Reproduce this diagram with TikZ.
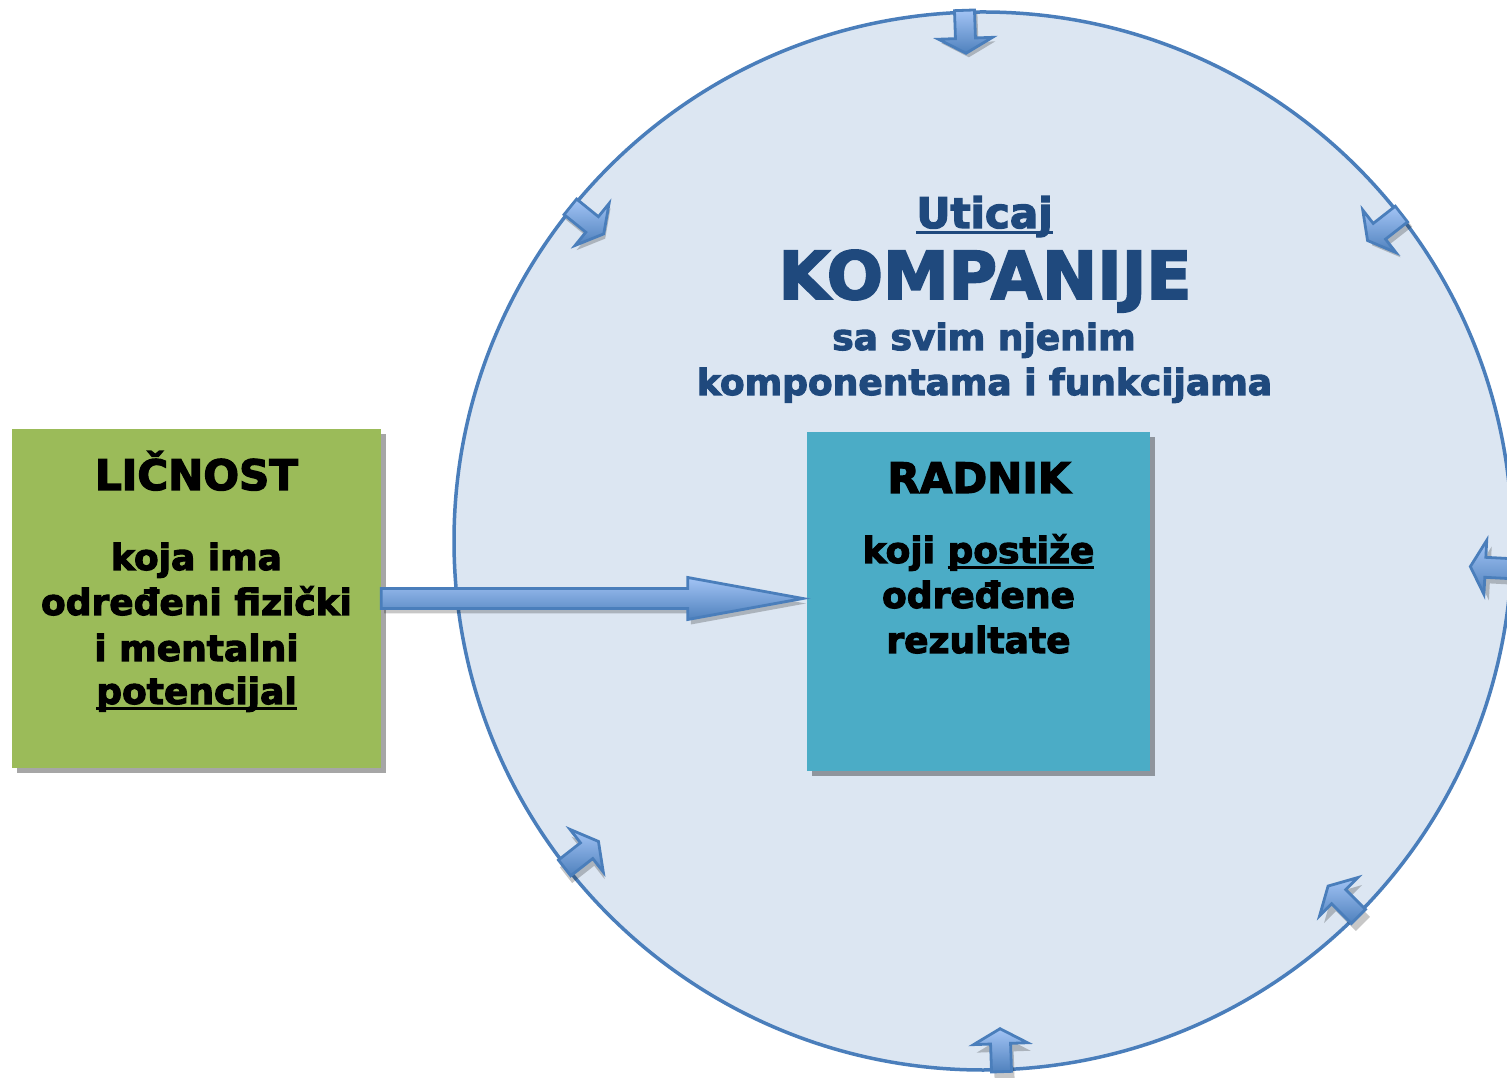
\documentclass[tikz,border=0pt]{standalone}
\usepackage{fontspec}
\setmainfont{DejaVu Sans}[BoldFeatures={FakeBold=3}]
\usetikzlibrary{calc,shadows}
\definecolor{circfill}{HTML}{DCE6F2}
\definecolor{circline}{HTML}{4A7EBB}
\definecolor{titleblue}{HTML}{1F497D}
\definecolor{boxgreen}{HTML}{9BBB59}
\definecolor{boxblue}{HTML}{4BACC6}
\definecolor{arrlight}{HTML}{A3C4F5}
\definecolor{arrdark}{HTML}{4F81BD}
\newcommand\myul[1]{\setbox0\hbox{#1}\rlap{\rule[-6pt]{\wd0}{3pt}}\box0}
\newcommand\bigarrowpath[2]{([xshift=#1,yshift=10pt+#2]g.east) -- ([xshift=-115pt+#1,yshift=10pt+#2]tip) -- ([xshift=-115pt+#1,yshift=21pt+#2]tip) -- ([xshift=#1,yshift=#2]tip) -- ([xshift=-115pt+#1,yshift=-21pt+#2]tip) -- ([xshift=-115pt+#1,yshift=-10pt+#2]tip) -- ([xshift=#1,yshift=-10pt+#2]g.east) -- cycle}
\tikzset{
  boxshadow/.style={drop shadow={shadow xshift=5pt, shadow yshift=-5pt, fill=black, opacity=0.35}},
  colbox/.style={minimum width=#1, minimum height=339pt, inner sep=0pt, boxshadow},
  arrowbody/.style={draw=circline, line width=2.8pt, line join=miter, top color=arrlight, bottom color=arrdark},
  arrowshade/.style={fill=black, opacity=0.22},
  titletext/.style={text=titleblue, anchor=base, inner sep=0pt},
  boxtext/.style={text=black, anchor=base, inner sep=0pt},
  bigfont/.style={font=\fontsize{66}{70}\selectfont\bfseries},
  headfont/.style={font=\fontsize{42}{48}\selectfont\bfseries},
  bodyfont/.style={font=\fontsize{36}{44}\selectfont\bfseries},
}
\begin{document}
\begin{tikzpicture}[x=1pt,y=1pt]
\useasboundingbox (0,0) rectangle (1507,1077);
% company circle
\node[circle, draw=circline, line width=3.5pt, fill=circfill, minimum size=1058pt, inner sep=0pt] (c) at (983,536) {};
% small inward arrows on the rim
\foreach \a in {92,141,38,-3,218,-45,-88} {
  \begin{scope}[shift={(986,530)}, rotate=\a]
    \fill[arrowshade] (533,-10) -- (505,-10) -- (505,-27) -- (490,0) -- (505,27) -- (505,10) -- (533,10) -- cycle;
  \end{scope}
  \begin{scope}[shift={(983,536)}, rotate=\a]
    \path[arrowbody] (531,-10) -- (503,-10) -- (503,-27) -- (488,0) -- (503,27) -- (503,10) -- (531,10) -- cycle;
  \end{scope}
}
% title texts
\node[titletext, headfont] (t1) at (984.5,849) {\myul{Uticaj}};
\node[titletext, bigfont] (t2) at (985,778) {KOMPANIJE};
\node[titletext, bodyfont] (t3) at (984,727) {sa svim njenim};
\node[titletext, bodyfont] (t4) at (984.5,682) {komponentama i funkcijama};
% boxes
\node[colbox=369pt, fill=boxgreen] (g) at (196.5,478.5) {};
\node[colbox=343pt, fill=boxblue] (r) at (978.5,475.5) {};
% green box text
\node[boxtext, headfont] (g1) at (196.5,587) {LIČNOST};
\node[boxtext, bodyfont] (g2) at (196.5,507) {koja ima};
\node[boxtext, bodyfont] (g3) at (196.5,462) {određeni fizički};
\node[boxtext, bodyfont] (g4) at (196.5,416) {i mentalni};
\node[boxtext, bodyfont] (g5) at (196.5,373) {\myul{potencijal}};
% blue box text
\node[boxtext, headfont] (r1) at (979,584) {RADNIK};
\node[boxtext, bodyfont] (r2) at (978.5,514) {koji \myul{postiže}};
\node[boxtext, bodyfont] (r3) at (978.5,469) {određene};
\node[boxtext, bodyfont] (r4) at (978.5,424) {rezultate};
% big arrow from LIČNOST to RADNIK
\coordinate (tip) at ([xshift=-4pt]r.west |- g.east);
\fill[arrowshade] \bigarrowpath{3pt}{-5pt};
\path[arrowbody] \bigarrowpath{0pt}{0pt};
\end{tikzpicture}
\end{document}
